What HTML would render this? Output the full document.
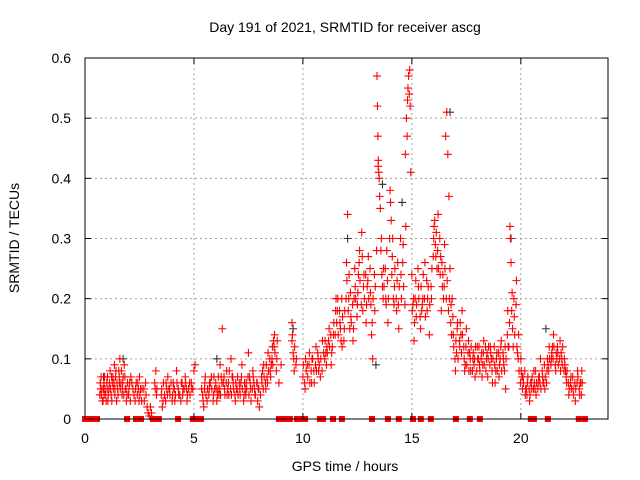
<!DOCTYPE html>
<html><head><meta charset="utf-8"><style>
body{margin:0;background:#fff}
svg{display:block;font-family:"Liberation Sans",sans-serif;font-size:14px}
</style></head><body>
<svg id="chart" width="640" height="480">
<text x="345" y="32" text-anchor="middle">Day 191 of 2021, SRMTID for receiver ascg</text>
<text x="345" y="471" text-anchor="middle">GPS time / hours</text>
<text transform="translate(19,238) rotate(-90)" text-anchor="middle">SRMTID / TECUs</text>
<g id="grid"></g><g id="marks"></g><g id="axes"></g>
</svg>
<script>
const xTicks=[0,5,10,15,20];
const yTicks=[0,0.1,0.2,0.3,0.4,0.5,0.6];
const yTickLabels=["0","0.1","0.2","0.3","0.4","0.5","0.6"];
const hours=[0.7,0.75,0.8,0.85,0.9,0.95,1.0,1.05,1.1,1.15,
1.2,1.25,1.3,1.35,1.4,1.45,1.5,1.55,1.6,1.65,
1.7,1.75,1.8,1.85,1.9,1.95,2.0,2.1,2.2,2.3,
2.35,2.4,2.5,2.55,2.6,2.7,2.8,2.85,2.9,2.95,
3.0,3.05,3.2,3.25,3.3,3.5,3.55,3.6,3.7,3.75,
3.8,3.9,4.0,4.05,4.1,4.2,4.3,4.4,4.5,4.6,
4.7,4.8,4.9,5.0,5.05,5.4,5.45,5.5,5.6,5.7,
5.8,5.9,6.0,6.05,6.1,6.2,6.25,6.3,6.4,6.5,
6.6,6.7,6.8,6.9,7.0,7.1,7.2,7.3,7.4,7.5,
7.6,7.7,7.8,7.9,8.0,8.1,8.2,8.3,8.4,8.5,
8.6,8.7,8.8,8.9,9.0,9.5,9.5,9.55,9.6,9.7,
10.0,10.1,10.2,10.3,10.4,10.5,10.6,10.7,10.8,10.9,
11.0,11.1,11.2,11.3,11.4,11.5,11.6,11.7,11.8,11.9,
12.0,12.05,12.1,12.2,12.3,12.4,12.5,12.6,12.7,12.8,
12.9,13.0,13.1,13.2,13.3,13.4,13.42,13.44,13.45,13.5,
13.55,13.6,13.7,13.8,13.9,14.0,14.05,14.1,14.2,14.3,
14.4,14.5,14.6,14.7,14.75,14.8,14.85,14.9,14.95,15.0,
15.05,15.1,15.2,15.3,15.4,15.5,15.6,15.7,15.8,15.9,
16.0,16.05,16.1,16.2,16.3,16.4,16.5,16.55,16.6,16.65,
16.7,16.75,16.8,16.9,17.0,17.1,17.2,17.3,17.4,17.5,
17.6,17.7,17.8,17.9,18.0,18.1,18.2,18.3,18.4,18.5,
18.6,18.7,18.8,18.9,19.0,19.1,19.2,19.3,19.4,19.5,
19.52,19.55,19.6,19.7,19.8,19.9,20.0,20.1,20.2,20.3,
20.4,20.5,20.6,20.7,20.8,20.9,21.0,21.1,21.2,21.3,
21.4,21.5,21.6,21.7,21.8,21.9,22.0,22.1,22.2,22.3,
22.4,22.5,22.6,22.7,22.75,
0.72,0.88,1.02,1.22,1.38,1.58,1.72,2.05,2.45,3.65,
3.85,4.15,4.45,4.65,5.55,5.75,5.95,6.15,6.35,6.55,
6.75,6.95,7.15,7.35,7.55,7.75,7.95,8.15,8.35,8.55,
10.15,10.45,10.75,11.05,11.35,11.55,11.75,12.15,12.35,12.55,
12.75,12.95,13.15,13.65,13.85,14.15,14.35,15.15,15.45,15.75,
16.15,16.35,16.45,16.85,17.05,17.25,17.45,17.65,17.85,18.05,
18.25,18.45,18.65,18.85,19.05,19.25,19.45,19.65,19.85,20.05,
20.25,20.45,20.65,20.85,21.05,21.25,21.45,21.65,21.85,22.05];
const tecu=[.06,.04,.03,.05,.07,.04,.06,.03,.05,.08,
.04,.06,.05,.09,.07,.03,.05,.08,.1,.06,
.04,.07,.09,.05,.03,.06,.04,.07,.05,.03,
.06,.04,.07,.05,.03,.05,.04,.02,.01,.005,
.02,.01,.06,.08,.05,.04,.02,.06,.03,.05,
.07,.04,.03,.06,.05,.08,.04,.03,.05,.07,
.04,.06,.05,.08,.09,.04,.02,.06,.03,.05,
.07,.04,.06,.03,.05,.09,.07,.15,.05,.08,
.04,.1,.06,.03,.07,.05,.09,.04,.06,.11,
.05,.08,.04,.06,.02,.07,.09,.05,.11,.08,
.12,.14,.1,.06,.09,.16,.13,.11,.08,.1,
.07,.05,.09,.11,.06,.08,.12,.1,.07,.13,
.1,.12,.15,.09,.14,.18,.2,.16,.12,.15,
.26,.34,.2,.17,.13,.22,.19,.28,.31,.24,
.16,.27,.21,.1,.18,.57,.52,.47,.42,.4,
.35,.3,.25,.2,.16,.38,.33,.27,.22,.18,
.15,.24,.29,.44,.5,.53,.57,.58,.41,.24,
.19,.13,.17,.22,.15,.2,.26,.18,.14,.2,
.3,.33,.27,.34,.24,.22,.29,.47,.51,.44,
.37,.25,.19,.14,.08,.16,.12,.18,.1,.15,
.13,.08,.1,.07,.12,.09,.11,.13,.08,.1,
.12,.06,.09,.11,.07,.13,.1,.05,.18,.32,
.3,.26,.21,.17,.23,.14,.1,.07,.04,.06,
.03,.05,.08,.04,.06,.1,.07,.05,.08,.12,
.1,.14,.08,.11,.13,.09,.1,.06,.04,.07,
.05,.03,.08,.04,.06,
.05,.04,.05,.07,.05,.06,.05,.06,.05,.04,
.05,.04,.06,.05,.04,.06,.05,.04,.06,.05,
.07,.05,.06,.05,.07,.06,.05,.08,.07,.09,
.08,.1,.09,.11,.12,.16,.13,.15,.2,.24,
.18,.22,.14,.22,.28,.2,.26,.2,.18,.22,
.25,.18,.2,.2,.11,.14,.09,.11,.09,.1,
.09,.11,.1,.08,.1,.08,.12,.12,.11,.07,
.05,.06,.05,.07,.06,.09,.12,.1,.11,.08];
const hours2=[0.68,0.74,0.78,0.83,0.87,0.92,0.97,1.03,1.07,1.12,
1.17,1.23,1.28,1.33,1.37,1.42,1.47,1.52,1.57,1.62,
1.67,1.73,1.78,1.83,1.88,1.93,2.02,2.08,2.15,2.25,
2.32,2.42,2.48,2.52,2.62,2.72,2.78,3.22,3.28,3.52,
3.58,3.72,3.78,3.88,3.95,4.02,4.08,4.12,4.22,4.28,
4.35,4.42,4.48,4.55,4.62,4.68,4.75,4.82,4.88,4.95,
5.35,5.42,5.48,5.52,5.62,5.68,5.72,5.82,5.88,5.92,
6.02,6.08,6.12,6.18,6.22,6.28,6.38,6.42,6.48,6.52,
6.58,6.62,6.68,6.72,6.78,6.82,6.88,6.92,6.98,7.02,
7.08,7.12,7.18,7.22,7.28,7.32,7.38,7.42,7.48,7.52,
7.58,7.62,7.68,7.72,7.78,7.82,7.88,7.92,7.98,8.05,
8.12,8.18,8.22,8.28,8.32,8.38,8.42,8.48,8.52,8.58,
8.62,8.68,8.72,8.78,8.82,8.65,9.52,9.58,9.62,9.68,
10.02,10.08,10.12,10.22,10.28,10.32,10.38,10.42,10.52,10.58,
10.62,10.68,10.72,10.82,10.88,10.95,11.02,11.08,11.12,11.18,
11.22,11.28,11.32,11.42,11.48,11.52,11.58,11.62,11.68,11.72,
11.78,11.82,11.88,11.92,11.98,12.02,12.08,12.12,12.18,12.22,
12.28,12.32,12.38,12.42,12.48,12.52,12.58,12.62,12.68,12.72,
12.78,12.82,12.88,12.92,12.98,13.02,13.08,13.12,13.18,13.22,
13.28,13.32,13.38,13.46,13.48,13.52,13.58,13.62,13.68,13.72,
13.78,13.82,13.88,13.92,13.98,14.02,14.08,14.12,14.18,14.22,
14.28,14.32,14.38,14.42,14.48,14.52,14.58,14.62,14.68,14.72,
14.78,14.82,14.88,14.92,15.02,15.08,15.12,15.18,15.22,15.28,
15.32,15.38,15.42,15.48,15.52,15.58,15.62,15.68,15.72,15.82,
15.88,15.92,15.98,16.02,16.08,16.12,16.18,16.22,16.28,16.32,
16.38,16.42,16.48,16.52,16.58,16.62,16.68,16.72,16.78,16.82,
16.88,16.92,16.98,17.02,17.08,17.12,17.18,17.22,17.28,17.32,
17.38,17.42,17.48,17.52,17.58,17.62,17.68,17.72,17.78,17.82,
17.88,17.92,17.98,18.02,18.08,18.12,18.18,18.22,18.28,18.32,
18.38,18.42,18.48,18.52,18.58,18.62,18.68,18.72,18.78,18.82,
18.88,18.92,18.98,19.02,19.08,19.12,19.18,19.22,19.28,19.32,
19.38,19.42,19.48,19.58,19.62,19.68,19.72,19.78,19.82,19.88,
19.92,19.98,20.02,20.08,20.12,20.18,20.22,20.28,20.32,20.38,
20.42,20.48,20.52,20.58,20.62,20.68,20.72,20.78,20.82,20.88,
20.92,20.98,21.02,21.08,21.12,21.18,21.22,21.28,21.32,21.38,
21.42,21.48,21.52,21.58,21.62,21.68,21.72,21.78,21.82,21.88,
21.92,21.98,22.02,22.08,22.12,22.18,22.22,22.28,22.32,22.38,
22.42,22.48,22.52,22.58,22.62,22.68,22.72,22.78,22.8,22.82];
const tecu2=[.04,.07,.05,.03,.06,.05,.03,.07,.04,.06,
.05,.03,.07,.06,.04,.08,.06,.04,.07,.05,
.08,.06,.04,.07,.05,.04,.05,.03,.06,.04,
.05,.06,.03,.04,.05,.03,.06,.05,.04,.05,
.03,.06,.04,.05,.06,.04,.05,.03,.06,.05,
.04,.06,.04,.05,.06,.03,.05,.04,.06,.05,
.05,.03,.05,.07,.05,.04,.06,.05,.03,.07,
.05,.04,.07,.05,.04,.06,.07,.04,.06,.04,
.06,.08,.05,.04,.07,.05,.04,.06,.05,.04,
.06,.04,.07,.05,.03,.06,.04,.05,.07,.04,
.06,.03,.05,.07,.05,.04,.06,.03,.05,.04,
.06,.05,.07,.06,.09,.06,.08,.1,.07,.1,
.09,.12,.11,.08,.13,.13,.14,.1,.12,.09,
.09,.06,.1,.07,.09,.06,.08,.1,.06,.09,
.08,.11,.08,.1,.08,.11,.13,.09,.11,.13,
.12,.14,.11,.16,.14,.2,.18,.14,.18,.15,
.2,.17,.13,.18,.2,.23,.18,.24,.21,.16,
.19,.15,.25,.2,.17,.21,.26,.23,.19,.27,
.22,.2,.24,.19,.23,.2,.25,.19,.16,.2,
.24,.22,.28,.43,.41,.37,.28,.24,.2,.22,
.25,.19,.23,.2,.3,.36,.24,.3,.19,.25,
.2,.23,.19,.22,.3,.2,.26,.22,.19,.32,
.47,.55,.54,.52,.18,.2,.16,.23,.19,.25,
.2,.17,.22,.19,.24,.2,.17,.23,.2,.19,
.22,.25,.27,.32,.29,.31,.28,.25,.3,.27,
.26,.24,.22,.25,.2,.23,.18,.2,.16,.14,
.17,.12,.1,.13,.15,.1,.13,.16,.11,.14,
.12,.08,.12,.09,.11,.08,.1,.12,.08,.11,
.1,.12,.08,.1,.12,.08,.1,.07,.11,.09,
.12,.1,.07,.12,.09,.11,.08,.1,.12,.06,
.1,.08,.11,.09,.12,.08,.11,.09,.12,.1,
.14,.12,.16,.18,.15,.2,.14,.19,.12,.1,
.08,.06,.08,.05,.06,.08,.05,.04,.07,.05,
.04,.06,.07,.05,.06,.08,.06,.05,.07,.06,
.05,.08,.06,.09,.07,.06,.1,.08,.1,.09,
.11,.1,.12,.09,.11,.12,.09,.1,.08,.1,
.12,.08,.09,.07,.08,.06,.05,.06,.05,.07,
.04,.06,.05,.06,.07,.05,.06,.04,.08,.06];
const otherHours=[0.8,1.7,6.0,9.5,12.0,13.3,13.6,14.5,16.7,19.5,21.1];
const otherTecu=[.07,.1,.1,.15,.3,.09,.39,.36,.51,.3,.15];
const gapHours=[0,0.15,0.3,0.55,1.93,2.34,2.57,3.12,3.39,4.27,4.95,5.1,5.32,8.9,9.17,9.4,9.72,9.95,10.1,10.78,10.92,11.38,11.79,13.17,13.9,14.4,15.05,15.41,15.87,17.02,17.66,18.12,20.46,20.6,21.24,22.66,22.94];

const L=85,R=608,T=58,B=419,XMAX=24,YMAX=0.6;
const xs=h=>L+(R-L)*h/XMAX, ys=v=>B-(B-T)*v/YMAX;
const NS="http://www.w3.org/2000/svg";
function mk(tag,attrs,parent){const e=document.createElementNS(NS,tag);for(const k in attrs)e.setAttribute(k,attrs[k]);parent.appendChild(e);return e;}
const grid=document.getElementById('grid'),marks=document.getElementById('marks'),axes=document.getElementById('axes');
xTicks.forEach(t=>{const x=xs(t);
 if(t>0){const g=mk('line',{x1:x,y1:T,x2:x,y2:B,stroke:'#a0a0a0','stroke-dasharray':'2,3'},grid);
 
 }
 mk('line',{x1:x,y1:B,x2:x,y2:B-6,stroke:'#000'},axes);mk('line',{x1:x,y1:T,x2:x,y2:T+6,stroke:'#000'},axes);
 const tx=mk('text',{x:x,y:443,'text-anchor':'middle'},axes);tx.textContent=t;
 
 });
yTicks.forEach((t,i)=>{const y=ys(t);
 if(t>0&&t<YMAX){const g=mk('line',{x1:L,y1:y,x2:R,y2:y,stroke:'#a0a0a0','stroke-dasharray':'2,3'},grid);
 
 }
 mk('line',{x1:L,y1:y,x2:L+6,y2:y,stroke:'#000'},axes);mk('line',{x1:R,y1:y,x2:R-6,y2:y,stroke:'#000'},axes);
 const tx=mk('text',{x:71,y:y+5,'text-anchor':'end'},axes);tx.textContent=yTickLabels[i];
 
 });
const border=mk('rect',{x:L,y:T,width:R-L,height:B-T,fill:'none',stroke:'#000'},axes);


function plus(h,v,c){const x=xs(h),y=ys(v);
 const p=mk('path',{d:`M${x-4},${y}H${x+4}M${x},${y-4}V${y+4}`,stroke:c,'stroke-width':1.1,fill:'none'},marks);
 
 }
otherHours.forEach((h,i)=>plus(h+0.05,otherTecu[i],'#333'));
hours.forEach((h,i)=>plus(h,tecu[i],'#ff0000'));
hours2.forEach((h,i)=>plus(h,tecu2[i],'#ff0000'));
gapHours.forEach(h=>{const r=mk('rect',{x:xs(h)-3,y:B-3,width:6,height:6,fill:'#ff0000'},marks);
 
 });
</script>
</body></html>
